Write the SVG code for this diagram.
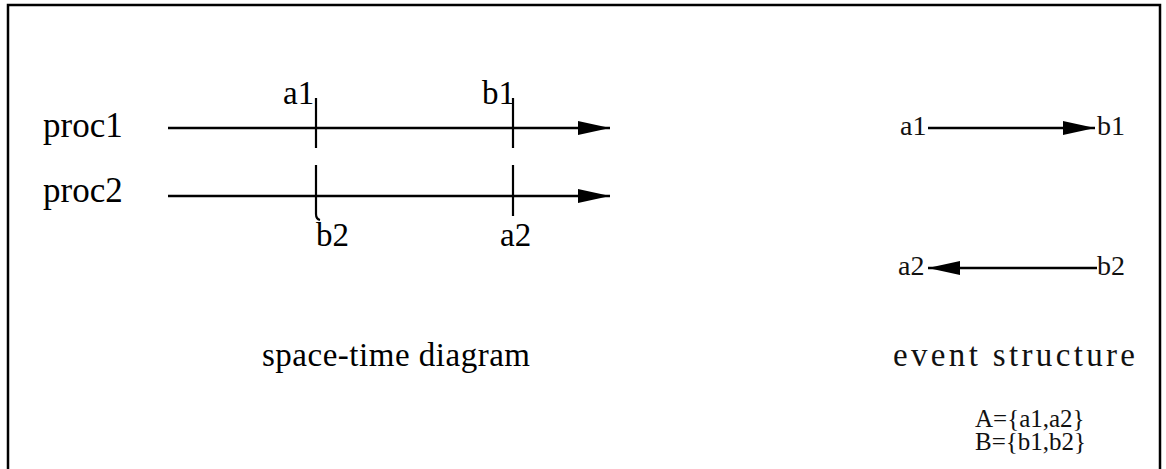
<svg xmlns="http://www.w3.org/2000/svg" width="1166" height="469" viewBox="0 0 1166 469">
  <style>
    .frame { fill: none; stroke: #000; stroke-width: 2.5; }
    .axis { fill: none; stroke: #000; stroke-width: 2.4; }
    .tick { fill: none; stroke: #000; stroke-width: 2.2; }
    .lbl { font-family: "Liberation Serif", "DejaVu Serif", serif; font-size: 33px; fill: #000; }
    .proc { font-size: 35px; }
    .ev { font-family: "Liberation Serif", "DejaVu Serif", serif; font-size: 28px; fill: #111; }
    .cap { font-size: 33px; }
    .set { font-size: 25px; }
  </style>
  <defs>
    <marker id="head" markerWidth="32" markerHeight="16" refX="32" refY="8" orient="auto" markerUnits="userSpaceOnUse">
      <path d="M0,1 L32,8 L0,15 Z" fill="#000"/>
    </marker>
  </defs>

  <!-- outer frame, open at the bottom edge -->
  <rect class="frame" x="8" y="5" width="1152" height="480"/>

  <!-- space-time diagram -->
  <g id="proc1">
    <text class="lbl proc" x="43" y="137">proc1</text>
  </g>
  <g id="proc2">
    <text class="lbl proc" x="43" y="202">proc2</text>
  </g>
  <g id="event-a1">
    <line class="tick" x1="316" y1="98" x2="316" y2="148"/>
    <text class="lbl" x="283" y="104">a1</text>
  </g>
  <g id="event-b1">
    <line class="tick" x1="513" y1="98" x2="513" y2="148"/>
    <text class="lbl" x="482" y="104">b1</text>
  </g>
  <g id="event-b2">
    <path class="tick" d="M316,165 L316,214 Q316,219 320,220"/>
    <text class="lbl" x="316" y="246">b2</text>
  </g>
  <g id="event-a2">
    <line class="tick" x1="513" y1="165" x2="513" y2="216"/>
    <text class="lbl" x="500" y="246">a2</text>
  </g>
  <g id="caption-left">
    <text class="lbl" x="262" y="366" textLength="268">space-time diagram</text>
  </g>

  <!-- event structure -->
  <g id="es-a1"><text class="ev" x="900" y="135">a1</text></g>
  <g id="es-b1"><text class="ev" x="1097" y="135">b1</text></g>
  <g id="es-a2"><text class="ev" x="898" y="275">a2</text></g>
  <g id="es-b2"><text class="ev" x="1097" y="275">b2</text></g>
  <g id="caption-right">
    <text class="ev cap" x="893" y="366" textLength="242">event structure</text>
  </g>
  <g id="sets">
    <text class="ev set" x="975" y="427">A={a1,a2}</text>
    <text class="ev set" x="975" y="450">B={b1,b2}</text>
  </g>

  <g id="connectors">
    <line class="axis" x1="168" y1="128" x2="610" y2="128" marker-end="url(#head)"/>
    <line class="axis" x1="168" y1="196" x2="610" y2="196" marker-end="url(#head)"/>
    <line class="axis" x1="928" y1="128" x2="1095" y2="128" marker-end="url(#head)"/>
    <line class="axis" x1="1097" y1="268" x2="928" y2="268" marker-end="url(#head)"/>
  </g>
</svg>
